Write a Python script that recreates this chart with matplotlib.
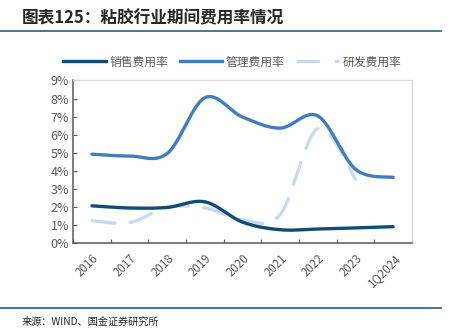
import numpy as np
import matplotlib
matplotlib.use("Agg")
import matplotlib.pyplot as plt
from matplotlib.lines import Line2D

plt.rcParams['font.family'] = ['Noto Sans CJK SC', 'DejaVu Sans']

categories = ["2016", "2017", "2018", "2019", "2020", "2021", "2022", "2023", "1Q2024"]
sales = [2.08, 1.96, 1.99, 2.30, 1.18, 0.76, 0.80, 0.86, 0.93]
admin = [4.93, 4.83, 4.97, 8.05, 6.98, 6.37, 7.04, 4.10, 3.65]
rnd = [1.26, 1.15, 2.00, 1.97, 1.30, 1.60, 6.35, 3.55]

series_names = ["销售费用率", "管理费用率", "研发费用率"]


def smooth(y, n=30):
    """Catmull-Rom style smoothing used only for rendering."""
    y = np.asarray(y, float)
    x = np.arange(len(y), dtype=float)
    P = np.column_stack([x, y])
    P = np.vstack([P[0], P, P[-1]])
    out = []
    for i in range(1, len(P) - 2):
        p0, p1, p2, p3 = P[i - 1], P[i], P[i + 1], P[i + 2]
        c1 = p1 + (p2 - p0) / 6.0
        c2 = p2 - (p3 - p1) / 6.0
        t = np.linspace(0, 1, n)[:, None]
        seg = ((1 - t) ** 3) * p1 + 3 * ((1 - t) ** 2) * t * c1 + 3 * (1 - t) * t ** 2 * c2 + t ** 3 * p2
        out.append(seg if i == 1 else seg[1:])
    S = np.vstack(out)
    return S[:, 0], S[:, 1]


fig = plt.figure(figsize=(4.57, 3.33), dpi=100)
ax = fig.add_axes([0.16, 0.2688, 0.7415, 0.4895])

c_sales = "#0F4C77"
c_admin = "#3F7DC0"
c_rnd = "#C5DCF0"

xs, ys = smooth(rnd)
ax.plot(xs, ys, color=c_rnd, lw=2.4, dashes=(7, 4.5), solid_capstyle='round', dash_capstyle='round', zorder=2)
xs, ys = smooth(admin)
ax.plot(xs, ys, color=c_admin, lw=2.4, solid_capstyle='round', zorder=3)
xs, ys = smooth(sales)
ax.plot(xs, ys, color=c_sales, lw=2.4, solid_capstyle='round', zorder=4)

ax.set_xlim(-0.5, len(categories) - 0.5)
ax.set_ylim(0, 9)
ax.set_yticks(np.arange(0, 10, 1))
ax.set_yticklabels([f"{v}%" for v in range(10)], fontsize=9, color="#595959")
ax.set_xticks(np.arange(-0.5, len(categories), 1))
ax.set_xticklabels([])
ax.set_xticks(np.arange(len(categories)), minor=True)
ax.set_xticklabels(categories, minor=True, rotation=45, ha='right', va='top',
                   fontsize=8.3, color="#595959", rotation_mode='anchor')
ax.tick_params(axis='x', which='minor', length=0, pad=6)
ax.tick_params(axis='x', which='major', direction='in', length=3, color="#595959")
ax.tick_params(axis='y', direction='in', length=3, color="#595959", pad=3)

for s in ['left', 'bottom']:
    ax.spines[s].set_color("#595959")
    ax.spines[s].set_linewidth(1.1)
for s in ['top', 'right']:
    ax.spines[s].set_color("#D9D9D9")
    ax.spines[s].set_linewidth(1.0)

handles = [
    Line2D([], [], color=c_sales, lw=2.4),
    Line2D([], [], color=c_admin, lw=2.4),
    Line2D([], [], color=c_rnd, lw=2.4, dashes=(7, 4.5)),
]
fig.legend(handles, series_names, loc='center', bbox_to_anchor=(0.508, 0.814), ncol=3,
           frameon=False, fontsize=8.5, handlelength=3.6, handletextpad=0.3,
           columnspacing=1.0, labelcolor="#595959")

# title and header/footer rules
fig.text(22 / 457, 1 - 18 / 333, "图表125：粘胶行业期间费用率情况", fontsize=12,
         color="#262626", ha='left', va='center', fontweight='bold')
fig.add_artist(Line2D([0, 441 / 457], [1 - 31 / 333, 1 - 31 / 333], color="#2F6B9A", lw=1.3))
fig.add_artist(Line2D([0, 441 / 457], [1 - 308 / 333, 1 - 308 / 333], color="#2F6B9A", lw=1.3))
fig.text(22 / 457, 1 - 322 / 333, "来源：WIND、国金证券研究所", fontsize=7.3,
         color="#262626", ha='left', va='center')

fig.savefig("out.png", dpi=100)
